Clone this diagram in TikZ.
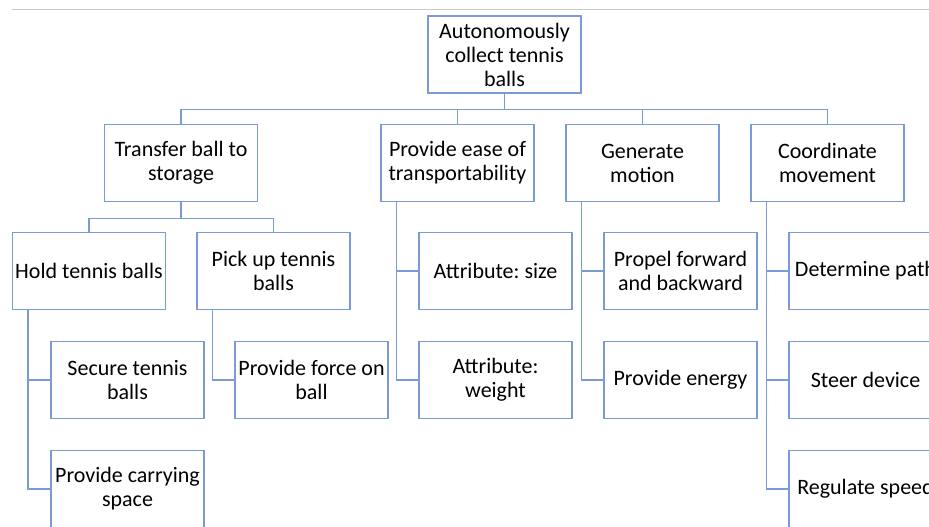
\documentclass[tikz,border=0pt]{standalone}
\usepackage{fontspec}
\setmainfont{Carlito}
\usepackage{tikz}
\definecolor{box-blue}{HTML}{7B9BD6}
\definecolor{rule-gray}{HTML}{C9C9C9}
\frenchspacing

\begin{document}
\begin{tikzpicture}[x=1pt, y=-1pt, line width=1.2pt, box-blue,
    nodes={draw=box-blue, text=black, minimum width=153pt, minimum height=77pt,
           inner sep=0pt, align=center, font=\fontsize{22}{24}\selectfont}]
      \useasboundingbox (0,0) rectangle (929,527);
      \clip (0,0) rectangle (929,527);
      \draw[rule-gray, line width=1.5pt] (12,9.5) -- (929,9.5);

      \node (f0) at (504.5,54.5) {Autonomously\\collect tennis\\balls};
      \node (f1) at (181,163) {Transfer ball to\\storage};
      \node (f2) at (457.5,163) {Provide ease of\\transportability};
      \node (f3) at (642.5,163) {Generate\\motion};
      \node (f4) at (827.5,163) {Coordinate\\movement};
      \node (f11) at (89,271) {Hold tennis balls};
      \node (f12) at (273.5,271) {Pick up tennis\\balls};
      \node (f21) at (495.5,271) {Attribute: size};
      \node (f31) at (680.5,271) {Propel forward\\and backward};
      \node (f41) at (865.5,271) {Determine path};
      \node (f111) at (127.5,380) {Secure tennis\\balls};
      \node (f121) at (311.5,380) {Provide force on\\ball};
      \node (f22) at (495.5,380) {Attribute:\\weight};
      \node (f32) at (680.5,380) {Provide energy};
      \node (f42) at (865.5,380) {Steer device};
      \node (f112) at (127.5,489) {Provide carrying\\space};
      \node (f43) at (865.5,489) {Regulate speed};

      \draw (f0.south) -- ++(0,15.5) -| (f1.north);
      \draw (f0.south) -- ++(0,15.5) -| (f2.north);
      \draw (f0.south) -- ++(0,15.5) -| (f3.north);
      \draw (f0.south) -- ++(0,15.5) -| (f4.north);
      \draw (f1.south) -- ++(0,16) -| (f11.north);
      \draw (f1.south) -- ++(0,16) -| (f12.north);
      \draw ([xshift=16pt]f11.south west) |- (f111.west);
      \draw ([xshift=16pt]f11.south west) |- (f112.west);
      \draw ([xshift=16pt]f12.south west) |- (f121.west);
      \draw ([xshift=16pt]f2.south west) |- (f21.west);
      \draw ([xshift=16pt]f2.south west) |- (f22.west);
      \draw ([xshift=16pt]f3.south west) |- (f31.west);
      \draw ([xshift=16pt]f3.south west) |- (f32.west);
      \draw ([xshift=16pt]f4.south west) |- (f41.west);
      \draw ([xshift=16pt]f4.south west) |- (f42.west);
      \draw ([xshift=16pt]f4.south west) |- (f43.west);
    \end{tikzpicture}
\end{document}
